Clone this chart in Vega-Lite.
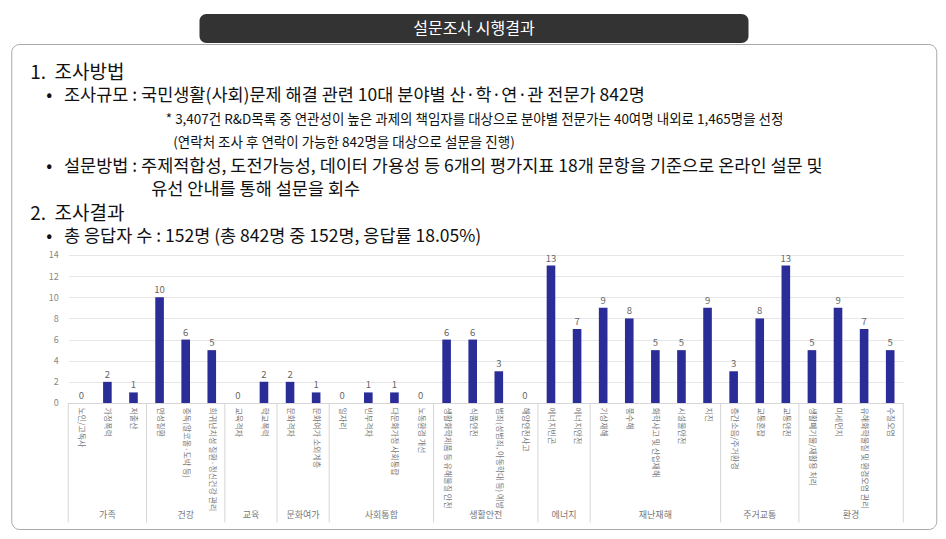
{
  "$schema": "https://vega.github.io/schema/vega-lite/v6.json",
  "padding": {"left": 10, "top": 14, "right": 5, "bottom": 5},
  "background": "#ffffff",
  "config": {"font": "Noto Sans CJK KR", "view": {"stroke": null}},
  "datasets": {
    "tab": [{"title": "설문조사 시행결과"}],
    "lines": [
      {"line": 1, "kind": "h", "text": "\u200b\u30001.\u00a0\u00a0조사방법"},
      {"line": 2, "kind": "b", "text": "\u200b\u3000\u3000•\u00a0\u00a0\u00a0조사규모 : 국민생활(사회)문제 해결 관련 10대 분야별 산·학·연·관 전문가 842명"},
      {"line": 3, "kind": "n", "text": "\u200b\u3000\u3000\u3000\u3000\u3000\u3000\u3000\u3000\u3000\u3000\u3000\u00a0\u00a0* 3,407건 R&D목록 중 연관성이 높은 과제의 책임자를 대상으로 분야별 전문가는 40여명 내외로 1,465명을 선정"},
      {"line": 4, "kind": "n", "text": "\u200b\u3000\u3000\u3000\u3000\u3000\u3000\u3000\u3000\u3000\u3000\u3000\u3000(연락처 조사 후 연락이 가능한 842명을 대상으로 설문을 진행)"},
      {"line": 5, "kind": "b", "text": "\u200b\u3000\u3000•\u00a0\u00a0\u00a0설문방법 : 주제적합성, 도전가능성, 데이터 가용성 등 6개의 평가지표 18개 문항을 기준으로 온라인 설문 및"},
      {"line": 6, "kind": "b", "text": "\u200b\u3000\u3000\u3000\u3000\u3000\u3000\u3000\u3000유선 안내를 통해 설문을 회수"},
      {"line": 7, "kind": "h", "text": "\u200b\u30002.\u00a0\u00a0조사결과"},
      {"line": 8, "kind": "b", "text": "\u200b\u3000\u3000•\u00a0\u00a0\u00a0총 응답자 수 : 152명 (총 842명 중 152명, 응답률 18.05%)"}
    ],
    "survey": [
      {"group": "가족", "cat": "노인/고독사", "n": 0},
      {"group": "가족", "cat": "가정폭력", "n": 2},
      {"group": "가족", "cat": "저출산", "n": 1},
      {"group": "건강", "cat": "만성질환", "n": 10},
      {"group": "건강", "cat": "중독(알코올·도박 등)", "n": 6},
      {"group": "건강", "cat": "희귀난치성 질환·정신건강 관리", "n": 5},
      {"group": "교육", "cat": "교육격차", "n": 0},
      {"group": "교육", "cat": "학교폭력", "n": 2},
      {"group": "문화여가", "cat": "문화격차", "n": 2},
      {"group": "문화여가", "cat": "문화여가 소외계층", "n": 1},
      {"group": "사회통합", "cat": "일자리", "n": 0},
      {"group": "사회통합", "cat": "빈부격차", "n": 1},
      {"group": "사회통합", "cat": "다문화가정 사회통합", "n": 1},
      {"group": "사회통합", "cat": "노동환경 개선", "n": 0},
      {"group": "생활안전", "cat": "생활화학제품 등 유해물질 안전", "n": 6},
      {"group": "생활안전", "cat": "식품안전", "n": 6},
      {"group": "생활안전", "cat": "범죄(성범죄, 아동학대 등) 예방", "n": 3},
      {"group": "생활안전", "cat": "해양안전사고", "n": 0},
      {"group": "에너지", "cat": "에너지빈곤", "n": 13},
      {"group": "에너지", "cat": "에너지안전", "n": 7},
      {"group": "재난재해", "cat": "기상재해", "n": 9},
      {"group": "재난재해", "cat": "풍수해", "n": 8},
      {"group": "재난재해", "cat": "화학사고 및 산업재해", "n": 5},
      {"group": "재난재해", "cat": "시설물안전", "n": 5},
      {"group": "재난재해", "cat": "지진", "n": 9},
      {"group": "주거교통", "cat": "층간소음/주거환경", "n": 3},
      {"group": "주거교통", "cat": "교통혼잡", "n": 8},
      {"group": "주거교통", "cat": "교통안전", "n": 13},
      {"group": "환경", "cat": "생활폐기물/재활용 처리", "n": 5},
      {"group": "환경", "cat": "미세먼지", "n": 9},
      {"group": "환경", "cat": "유해화학물질 및 환경오염 관리", "n": 7},
      {"group": "환경", "cat": "수질오염", "n": 5}
    ]
  },
  "vconcat": [
    {
      "width": 549,
      "height": 29,
      "view": {"fill": "#333333", "stroke": null, "cornerRadius": 7},
      "data": {"name": "tab"},
      "mark": {"type": "text", "color": "#ffffff", "fontSize": 16, "baseline": "middle"},
      "encoding": {"text": {"field": "title"}}
    },
    {
      "width": 925,
      "height": 485,
      "view": {"fill": "#ffffff", "stroke": "#a8a8a8", "strokeWidth": 1, "cornerRadius": 8},
      "layer": [
        {
          "data": {"name": "lines"},
          "encoding": {
            "x": {"datum": 0, "type": "quantitative", "scale": {"domain": [0, 1]}, "axis": null},
            "y": {"field": "line", "type": "quantitative", "scale": {"domain": [-0.24, 20.46], "reverse": true, "nice": false, "zero": false}, "axis": null},
            "text": {"field": "text"}
          },
          "layer": [
            {"transform": [{"filter": "datum.kind == 'h'"}], "mark": {"type": "text", "align": "left", "baseline": "middle", "fontSize": 19, "color": "#111111"}},
            {"transform": [{"filter": "datum.kind == 'b'"}], "mark": {"type": "text", "align": "left", "baseline": "middle", "fontSize": 17.5, "color": "#111111"}},
            {"transform": [{"filter": "datum.kind == 'n'"}], "mark": {"type": "text", "align": "left", "baseline": "middle", "fontSize": 13.5, "color": "#111111"}}
          ]
        },
        {
          "data": {"name": "survey"},
          "transform": [
            {"window": [{"op": "row_number", "as": "rn"}], "groupby": ["group"]},
            {"joinaggregate": [{"op": "count", "as": "cnt"}], "groupby": ["group"]}
          ],
          "layer": [
            {
              "mark": {"type": "bar", "width": {"band": 0.33}, "color": "#2a2d98"},
              "encoding": {
                "x": {"field": "cat", "type": "nominal", "sort": null, "scale": {"range": [57, 892], "paddingInner": 0, "paddingOuter": 0},
                  "axis": {"title": null, "offset": -126, "labelAngle": 90, "labelFontSize": 8, "labelColor": "#777777", "ticks": false, "domain": true, "domainColor": "#d6d6d6", "labelPadding": 4, "labelLimit": 200, "grid": false}},
                "y": {"field": "n", "type": "quantitative", "scale": {"domain": [-11.92, 33.96], "nice": false, "zero": false},
                  "axis": {"title": null, "offset": -57, "values": [0, 2, 4, 6, 8, 10, 12, 14], "labelFontSize": 9, "labelColor": "#888888", "ticks": false, "domain": false, "grid": true, "gridColor": "#e6e6e6", "labelPadding": 10}}
              }
            },
            {
              "mark": {"type": "text", "dy": -7, "fontSize": 9.5, "color": "#666666"},
              "encoding": {
                "x": {"field": "cat", "type": "nominal", "sort": null},
                "y": {"field": "n", "type": "quantitative"},
                "text": {"field": "n"}
              }
            },
            {
              "transform": [{"filter": "datum.rn == 1"}],
              "mark": {"type": "rule", "color": "#d6d6d6"},
              "encoding": {
                "x": {"field": "cat", "type": "nominal", "sort": null, "bandPosition": 0},
                "y": {"datum": 0, "type": "quantitative"},
                "y2": {"datum": -11.3}
              }
            },
            {
              "transform": [{"filter": "datum.rn == datum.cnt && datum.group == '환경'"}],
              "mark": {"type": "rule", "color": "#d6d6d6"},
              "encoding": {
                "x": {"field": "cat", "type": "nominal", "sort": null, "bandPosition": 1},
                "y": {"datum": 0, "type": "quantitative"},
                "y2": {"datum": -11.3}
              }
            },
            {
              "transform": [{"filter": "datum.cnt % 2 == 1 && datum.rn == (datum.cnt + 1) / 2"}],
              "mark": {"type": "text", "fontSize": 9, "color": "#777777", "baseline": "middle"},
              "encoding": {
                "x": {"field": "cat", "type": "nominal", "sort": null, "bandPosition": 0.5},
                "y": {"datum": -10.6, "type": "quantitative"},
                "text": {"field": "group"}
              }
            },
            {
              "transform": [{"filter": "datum.cnt % 2 == 0 && datum.rn == datum.cnt / 2 + 1"}],
              "mark": {"type": "text", "fontSize": 9, "color": "#777777", "baseline": "middle"},
              "encoding": {
                "x": {"field": "cat", "type": "nominal", "sort": null, "bandPosition": 0},
                "y": {"datum": -10.6, "type": "quantitative"},
                "text": {"field": "group"}
              }
            }
          ]
        }
      ],
      "resolve": {"scale": {"x": "independent", "y": "independent"}, "axis": {"x": "independent", "y": "independent"}}
    }
  ],
  "spacing": 0,
  "center": true
}
